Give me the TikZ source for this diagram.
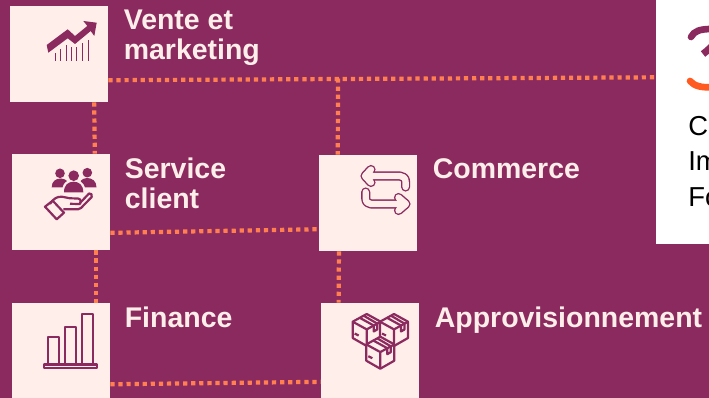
\documentclass[tikz,border=0pt]{standalone}
\usepackage{fontspec}
\setmainfont{Liberation Sans}
\definecolor{plum}{HTML}{8B2A5E}
\definecolor{blush}{HTML}{FFEEEA}
\definecolor{coral}{HTML}{FF7F50}
\definecolor{flame}{HTML}{FF5A1F}
\tikzset{
	tile/.style={fill=blush,minimum width=1.96cm,minimum height=1.92cm,inner sep=0pt},
	heading/.style={anchor=north west,align=left,inner sep=0pt,text=blush,font=\fontsize{16.2}{17.06}\selectfont\bfseries},
	panelline/.style={anchor=base west,inner sep=0pt,text=black,font=\fontsize{15.6}{18}\selectfont},
	dotlink/.style={draw=coral,line width=2.4pt,dash pattern=on 2.4pt off 2.2pt},
	iconline/.style={draw=plum,line width=1.25pt,line join=round},
	iconswap/.style={draw=plum,line width=0.8pt,double=blush,double distance=3.6pt,line cap=round,line join=round},
	crate/.pic={
		\filldraw[iconline,fill=blush] (0,0) -- (-14,7.7) -- (-14,24) -- (0,32) -- (14,24) -- (14,7.7) -- cycle;
		\draw[iconline] (-14,7.7) -- (0,15.4) -- (14,7.7) (0,15.4) -- (0,32);
		%tape
		\draw[iconline] (-7,3.8) -- (7,11.5) (-3,1.7) -- (10.5,9.6) (7,11.5) -- (7,17.5) -- (10.5,15.5) -- (10.5,9.6);
		\draw[iconline] (-12,19.5) -- (-8,21.5);
	}
}

\begin{document}
\begin{tikzpicture}[x=0.02cm,y=-0.02cm]
		%page
			\fill[plum] (0,0) rectangle (709,398);
			\useasboundingbox (0,0) rectangle (709,398);
		%tiles
			\node[tile] (vente) at (59,54) {};
			\node[tile] (service) at (61,202) {};
			\node[tile] (commerce) at (368,203) {};
			\node[tile] (finance) at (61,351) {};
			\node[tile] (appro) at (370,351) {};
			\node[fill=white,minimum width=1.06cm,minimum height=4.88cm,inner sep=0pt] (panel) at (682.5,122) {};
			\coordinate (junction) at (338,78.5);
		%dotted links
			\draw[dotlink] (vente.-28) -- (panel.121);
			\draw[dotlink] (junction) -- (commerce.122);
			\draw[dotlink] (vente.-54) -- (service.55);
			\draw[dotlink] (service.-32) -- (commerce.208);
			\draw[dotlink] (service.-54) -- (finance.54);
			\draw[dotlink] (commerce.-121) -- (appro.123);
			\draw[dotlink] (finance.-34) -- (appro.212);
		%labels
			\node[heading] at (123.5,9.5) {Vente et\\marketing};
			\node[heading] at (124.5,158) {Service\\client};
			\node[heading] at (432.5,158) {Commerce};
			\node[heading] at (124.5,307) {Finance};
			\node[heading] at (434.5,307) {Approvisionnement};
		%panel
			\draw[plum,line width=3.8pt,line cap=round] (691,37) .. controls (694,31) and (700,29) .. (712,29);
			\draw[plum,line width=4pt] (703,54) .. controls (706,52) and (708,50) .. (712,46);
			\draw[flame,line width=3.8pt,line cap=round] (690,81) .. controls (694,86) and (702,88) .. (712,87);
			\node[panelline] at (688,136) {Co};
			\node[panelline] at (688,171) {Im};
			\node[panelline] at (688,207) {Fo};
		%chart icon
			\fill[plum] (46.7,45) -- (67.7,29.3) -- (75,36) -- (87.3,26) -- (83.3,21) -- (96.7,22.7) -- (94.3,36) -- (90.7,31) -- (75,44) -- (67.7,38.3) -- (48.3,52.7) -- cycle;
			\foreach \x/\y in {55.3/52.7,60.7/49.5,66/45,71/47.3,76.3/46.7,82.7/42.7,88/40}
				\draw[plum,line width=0.55pt] (\x,60.7) -- (\x,\y);
		%people icon
			\fill[plum] (60,173.3) circle (4.8) (87.3,172.7) circle (4.8) (73.7,175.7) circle (5.3);
			\fill[plum] (51.7,187.3) .. controls (51.7,181) and (56,178.5) .. (61,178.5) .. controls (64,178.5) and (66,180) .. (67,181) .. controls (64,183) and (63,185) .. (62.5,187.3) -- cycle;
			\fill[plum] (96.5,187.3) .. controls (96.5,181) and (92,178) .. (87,178) .. controls (84,178) and (82,179.5) .. (80.5,181) .. controls (83,183) and (84.5,185) .. (85,187.3) -- cycle;
			\fill[plum] (64,192.3) .. controls (64,185) and (68,181.7) .. (73.7,181.7) .. controls (79,181.7) and (83.3,185) .. (83.3,192.3) -- cycle;
			\draw[iconline] (45,206.7) -- (52.7,200.7) -- (64,212.7) -- (56.7,219.3) -- cycle;
			\draw[iconline] (50,204) .. controls (54,198) and (57,196.7) .. (61.7,196.7) .. controls (65,196.7) and (67,198.3) .. (70,198.3) -- (78,198.5) .. controls (81,199) and (81.5,202) .. (80,204) -- (70,203.8);
			\draw[iconline] (80,203) -- (89,193.5) .. controls (91,192.5) and (92.5,195) .. (91.7,197) -- (81,208) .. controls (80,209) and (79,209.3) .. (78,209.3) -- (63.3,209.3);
		%swap icon
			\draw[iconswap] (405.6,187) -- (405.6,182) .. controls (405.6,178) and (403,176) .. (400,176) -- (365,176) (371,169.5) -- (365,176) -- (371,182.5);
			\draw[iconswap] (365.7,192) -- (365.7,198) .. controls (365.7,202) and (368,204) .. (371,204) -- (406,204) (398.5,197.5) -- (406,204) -- (398.5,210.5);
		%bars icon
			\foreach \x/\y/\w in {47.7/336.7/59.3,65/326.7/76.3,81.7/314.3/93.3}
				\draw[iconline] (\x,364) rectangle (\w,\y);
			\draw[iconline] (43.8,364.5) rectangle (97.4,368.2);
		%crates icon
			\pic at (366.7,314) {crate};
			\pic at (394,314) {crate};
			\pic at (380.3,336.7) {crate};
	\end{tikzpicture}
\end{document}
